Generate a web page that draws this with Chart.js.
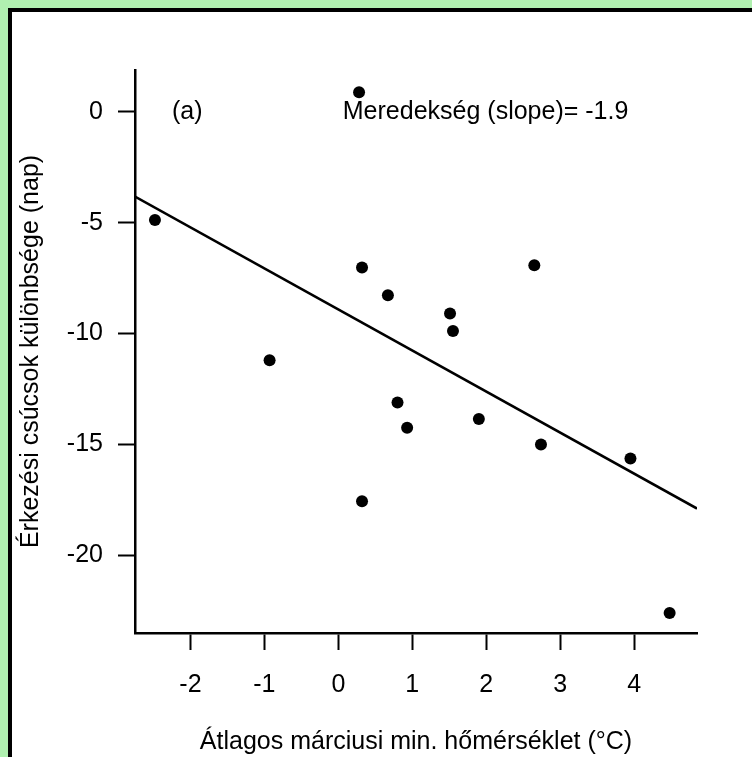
<!DOCTYPE html>
<html>
<head>
<meta charset="utf-8">
<script src="https://cdn.jsdelivr.net/npm/chart.js@4"></script>
<style>
  html, body { margin: 0; padding: 0; background: #b0f0b0; overflow: hidden; }
  #frame {
    position: absolute; left: 8px; top: 8px; width: 800px; height: 800px;
    background: #fff; border-left: 4px solid #000; border-top: 4px solid #000;
  }
  #wrap { position: absolute; left: 0; top: 0; width: 752px; height: 757px; }
</style>
</head>
<body>
<div id="frame"></div>
<div id="wrap"><canvas id="chart" width="752" height="757"></canvas></div>
<script>
// measured points (temperature, difference in days)
const tempX = [-2.48, 0.28, -0.93, 0.32, 0.67, 1.51, 1.55, 0.80, 0.93, 1.90, 2.74, 3.95, 0.32, 4.48, 2.65];
const diffY = [-4.88, 0.88, -11.2, -7.02, -8.27, -9.10, -9.89, -13.11, -14.25, -13.85, -15.0, -15.63, -17.56, -22.6, -6.92];

// regression line ends
const fitX = [-2.75, 4.85];
const fitY = [-3.83, -17.89];

const xTicks = [-2, -1, 0, 1, 2, 3, 4];
const yTicks = [0, -5, -10, -15, -20];

const xTitle = 'Átlagos márciusi min. hőmérséklet (°C)';
const yTitle = 'Érkezési csúcsok különbsége (nap)';
const panelLabel = '(a)';
const slopeLabel = 'Meredekség (slope)= -1.9';

const FONT = '"Liberation Sans", Arial, Helvetica, sans-serif';

const notes = {
    id: 'notes',
    afterDatasetsDraw(chart) {
        const ctx = chart.ctx;
        const xs = chart.scales.x, ys = chart.scales.y;
        ctx.save();
        ctx.fillStyle = '#000';
        ctx.font = '25px ' + FONT;
        ctx.textBaseline = 'middle';
        ctx.textAlign = 'left';
        ctx.fillText(panelLabel, xs.getPixelForValue(-2.25), ys.getPixelForValue(0));
        ctx.fillText(slopeLabel, xs.getPixelForValue(0.06), ys.getPixelForValue(0));
        ctx.restore();
    }
};

new Chart(document.getElementById('chart'), {
    type: 'scatter',
    data: {
        datasets: [
            {
                data: tempX.map((x, i) => ({x: x, y: diffY[i]})),
                backgroundColor: '#000',
                borderWidth: 0,
                pointRadius: 6
            },
            {
                type: 'line',
                data: fitX.map((x, i) => ({x: x, y: fitY[i]})),
                borderColor: '#000',
                borderWidth: 2.5,
                pointRadius: 0,
                fill: false
            }
        ]
    },
    options: {
        responsive: false,
        animation: false,
        layout: { padding: { left: 16, top: 70, right: 55, bottom: 0 } },
        plugins: { legend: { display: false }, tooltip: { enabled: false } },
        scales: {
            x: {
                type: 'linear',
                min: -2.75,
                max: 4.85,
                afterBuildTicks: s => { s.ticks = xTicks.map(v => ({value: v})); },
                afterFit: s => { s.height = 124; },
                grid: { drawOnChartArea: false, drawTicks: true, tickLength: 17, tickColor: '#000', tickWidth: 2 },
                border: { display: true, color: '#000', width: 2.5 },
                ticks: { color: '#000', font: { family: FONT, size: 25 }, padding: 20, maxRotation: 0 },
                title: { display: true, text: xTitle, color: '#000', font: { family: FONT, size: 25 }, padding: { top: 0, bottom: 0 } }
            },
            y: {
                type: 'linear',
                min: -23.5,
                max: 1.88,
                afterBuildTicks: s => { s.ticks = yTicks.map(v => ({value: v})); },
                afterFit: s => { s.width = 119; },
                grid: { drawOnChartArea: false, drawTicks: true, tickLength: 17, tickColor: '#000', tickWidth: 2 },
                border: { display: true, color: '#000', width: 2.5 },
                ticks: { color: '#000', font: { family: FONT, size: 25 }, padding: 15 },
                title: { display: true, text: yTitle, color: '#000', font: { family: FONT, size: 25 }, padding: { top: 0, bottom: 0 } }
            }
        }
    },
    plugins: [notes]
});
</script>
</body>
</html>
